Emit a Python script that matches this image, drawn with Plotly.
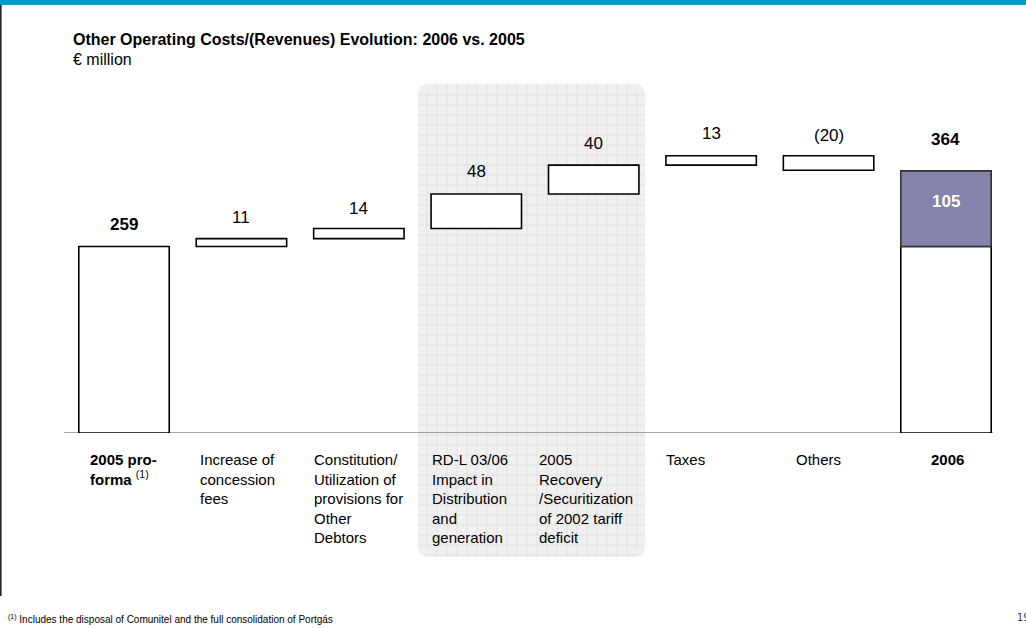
import plotly.graph_objects as go

# ---------------- data ----------------
categories = ["2005 pro-forma", "Increase of concession fees",
              "Constitution/Utilization of provisions for Other Debtors",
              "RD-L 03/06 Impact in Distribution and generation",
              "2005 Recovery/Securitization of 2002 tariff deficit",
              "Taxes", "Others", "2006"]
tick_labels = ["<b>2005 pro-<br>forma</b> <sup>(1)</sup>",
               "Increase of<br>concession<br>fees",
               "Constitution/<br>Utilization of<br>provisions for<br>Other<br>Debtors",
               "RD-L 03/06<br>Impact in<br>Distribution<br>and<br>generation",
               "2005<br>Recovery<br>/Securitization<br>of 2002 tariff<br>deficit",
               "Taxes", "Others", "<b>2006</b>"]
start_value = 259
changes = [11, 14, 48, 40, 13, -20]
end_base = 259
end_increment = 105
end_total = 364
value_labels = ["259", "11", "14", "48", "40", "13", "(20)", "364"]
inner_label = "105"

# ---------------- layout helpers ----------------
W, H = 1026, 628
def px(x):
    return x / W
def py(y):
    return 1 - y / H

BASE_PX = 433          # pixel row of value 0
SCALE = 0.72           # px per unit
YMAX = 400
plot_top_px = BASE_PX - SCALE * YMAX
x_left_px, x_right_px = 65.3, 1004.7

# waterfall bases
bases, heights, tops = [], [], []
cum = start_value
for c in changes:
    bases.append(min(cum, cum + c))
    heights.append(abs(c))
    tops.append(max(cum, cum + c))
    cum += c

label_tops = [start_value] + tops + [end_total]

BAR_W = 0.77
white_bar = dict(color="white", line=dict(color="black", width=1.6))

fig = go.Figure()
fig.add_trace(go.Bar(x=[categories[0]], y=[start_value], base=[0], width=BAR_W,
                     marker=white_bar, hoverinfo="skip"))
fig.add_trace(go.Bar(x=categories[1:7], y=heights, base=bases, width=BAR_W,
                     marker=white_bar, hoverinfo="skip"))
fig.add_trace(go.Bar(x=[categories[7]], y=[end_base], base=[0], width=BAR_W,
                     marker=white_bar, hoverinfo="skip"))
fig.add_trace(go.Bar(x=[categories[7]], y=[end_increment], base=[end_base], width=BAR_W,
                     marker=dict(color="#8383ab", line=dict(color="#333333", width=1.6)),
                     hoverinfo="skip"))

FONT = "Liberation Sans, Arial, sans-serif"
annotations = []

# value labels (x given as category index on the category axis)
label_shift = [22, 21, 20, 22, 22, 22, 20, 31]
for i, (t, lab) in enumerate(zip(label_tops, value_labels)):
    bold = i in (0, 7)
    annotations.append(dict(x=i, y=t, xref="x", yref="y", yanchor="middle",
                            yshift=label_shift[i], showarrow=False,
                            text=f"<b>{lab}</b>" if bold else lab,
                            font=dict(family=FONT, size=17, color="black")))
annotations.append(dict(x=len(categories) - 1, y=end_base + end_increment / 2, xref="x", yref="y",
                        yshift=7, showarrow=False, text=f"<b>{inner_label}</b>",
                        font=dict(family=FONT, size=17, color="white")))

# category labels
cat_xshift = [-36, -43, -47, -46, -57, -47, -35, -17]
for i, (lab, xs) in enumerate(zip(tick_labels, cat_xshift)):
    annotations.append(dict(x=i, y=0, xref="x", yref="y", xanchor="left", yanchor="top",
                            xshift=xs, yshift=-16, showarrow=False, align="left",
                            text=lab, font=dict(family=FONT, size=15, color="black")))

# titles & footnotes
annotations += [
    dict(x=px(71), y=py(40), xref="paper", yref="paper", xanchor="left", yanchor="middle",
         showarrow=False, text="<b>Other Operating Costs/(Revenues) Evolution: 2006 vs. 2005</b>",
         font=dict(family=FONT, size=16, color="black")),
    dict(x=px(71), y=py(59), xref="paper", yref="paper", xanchor="left", yanchor="middle",
         showarrow=False, text="€ million", font=dict(family=FONT, size=16, color="black")),
    dict(x=px(6), y=py(619), xref="paper", yref="paper", xanchor="left", yanchor="middle",
         showarrow=False, text="<sup>(1)</sup> Includes the disposal of Comunitel and the full consolidation of Portgás",
         font=dict(family=FONT, size=10, color="black")),
    dict(x=px(1015), y=py(617), xref="paper", yref="paper", xanchor="left", yanchor="middle",
         showarrow=False, text="19", font=dict(family="DejaVu Sans Condensed, DejaVu Sans", size=11, color="#333333")),
]

# shaded highlight region with grid
rx0, rx1, ry0, ry1, r = 418, 645, 84, 557, 11
def P(x, y):
    return f"{px(x):.5f},{py(y):.5f}"
rect_path = (f"M {P(rx0 + r, ry0)} L {P(rx1 - r, ry0)} Q {P(rx1, ry0)} {P(rx1, ry0 + r)} "
             f"L {P(rx1, ry1 - r)} Q {P(rx1, ry1)} {P(rx1 - r, ry1)} "
             f"L {P(rx0 + r, ry1)} Q {P(rx0, ry1)} {P(rx0, ry1 - r)} "
             f"L {P(rx0, ry0 + r)} Q {P(rx0, ry0)} {P(rx0 + r, ry0)} Z")
grid_parts = []
gx = rx0 + 9
while gx < rx1 - 1:
    y_a = ry0 + (r - 4 if (gx - rx0 < r or rx1 - gx < r) else 0)
    y_b = ry1 - (r - 4 if (gx - rx0 < r or rx1 - gx < r) else 0)
    grid_parts.append(f"M {P(gx, y_a)} L {P(gx, y_b)}")
    gx += 10
gy = ry0 + 11
while gy < ry1 - 1:
    x_a = rx0 + (r - 4 if (gy - ry0 < r or ry1 - gy < r) else 0)
    x_b = rx1 - (r - 4 if (gy - ry0 < r or ry1 - gy < r) else 0)
    grid_parts.append(f"M {P(x_a, gy)} L {P(x_b, gy)}")
    gy += 10

shapes = [
    dict(type="path", xref="paper", yref="paper", path=rect_path, fillcolor="#f0f0f0",
         line=dict(width=0), layer="below"),
    dict(type="path", xref="paper", yref="paper", path=" ".join(grid_parts),
         line=dict(color="#e1e1e1", width=1), layer="below"),
    # top blue band
    dict(type="rect", xref="paper", yref="paper", x0=0, x1=1, y0=py(5), y1=1,
         fillcolor="#0099cc", line=dict(width=0), layer="above"),
    # left border
    dict(type="line", xref="paper", yref="paper", x0=px(0.8), x1=px(0.8), y0=py(5), y1=py(596),
         line=dict(color="#222222", width=1.6)),
    # baseline
    dict(type="line", xref="paper", yref="y", x0=px(64), x1=px(993), y0=0, y1=0,
         line=dict(color="#555555", width=1.2), layer="below"),
]

fig.update_layout(
    width=W, height=H,
    margin=dict(l=0, r=0, t=0, b=0),
    paper_bgcolor="white", plot_bgcolor="rgba(0,0,0,0)",
    barmode="overlay", showlegend=False,
    xaxis=dict(domain=[px(x_left_px), px(x_right_px)], type="category",
               categoryorder="array", categoryarray=categories,
               range=[-0.5, len(categories) - 0.5], autorange=False,
               showticklabels=False, showgrid=False, zeroline=False, showline=False,
               fixedrange=True),
    yaxis=dict(domain=[py(BASE_PX), py(plot_top_px)], range=[0, YMAX], autorange=False,
               showticklabels=False, showgrid=False, zeroline=False, showline=False,
               fixedrange=True),
    annotations=annotations,
    shapes=shapes,
)

fig.write_html("out.html", config={"displayModeBar": False},
               post_script="document.body.style.margin='0';document.body.style.overflow='hidden';")
